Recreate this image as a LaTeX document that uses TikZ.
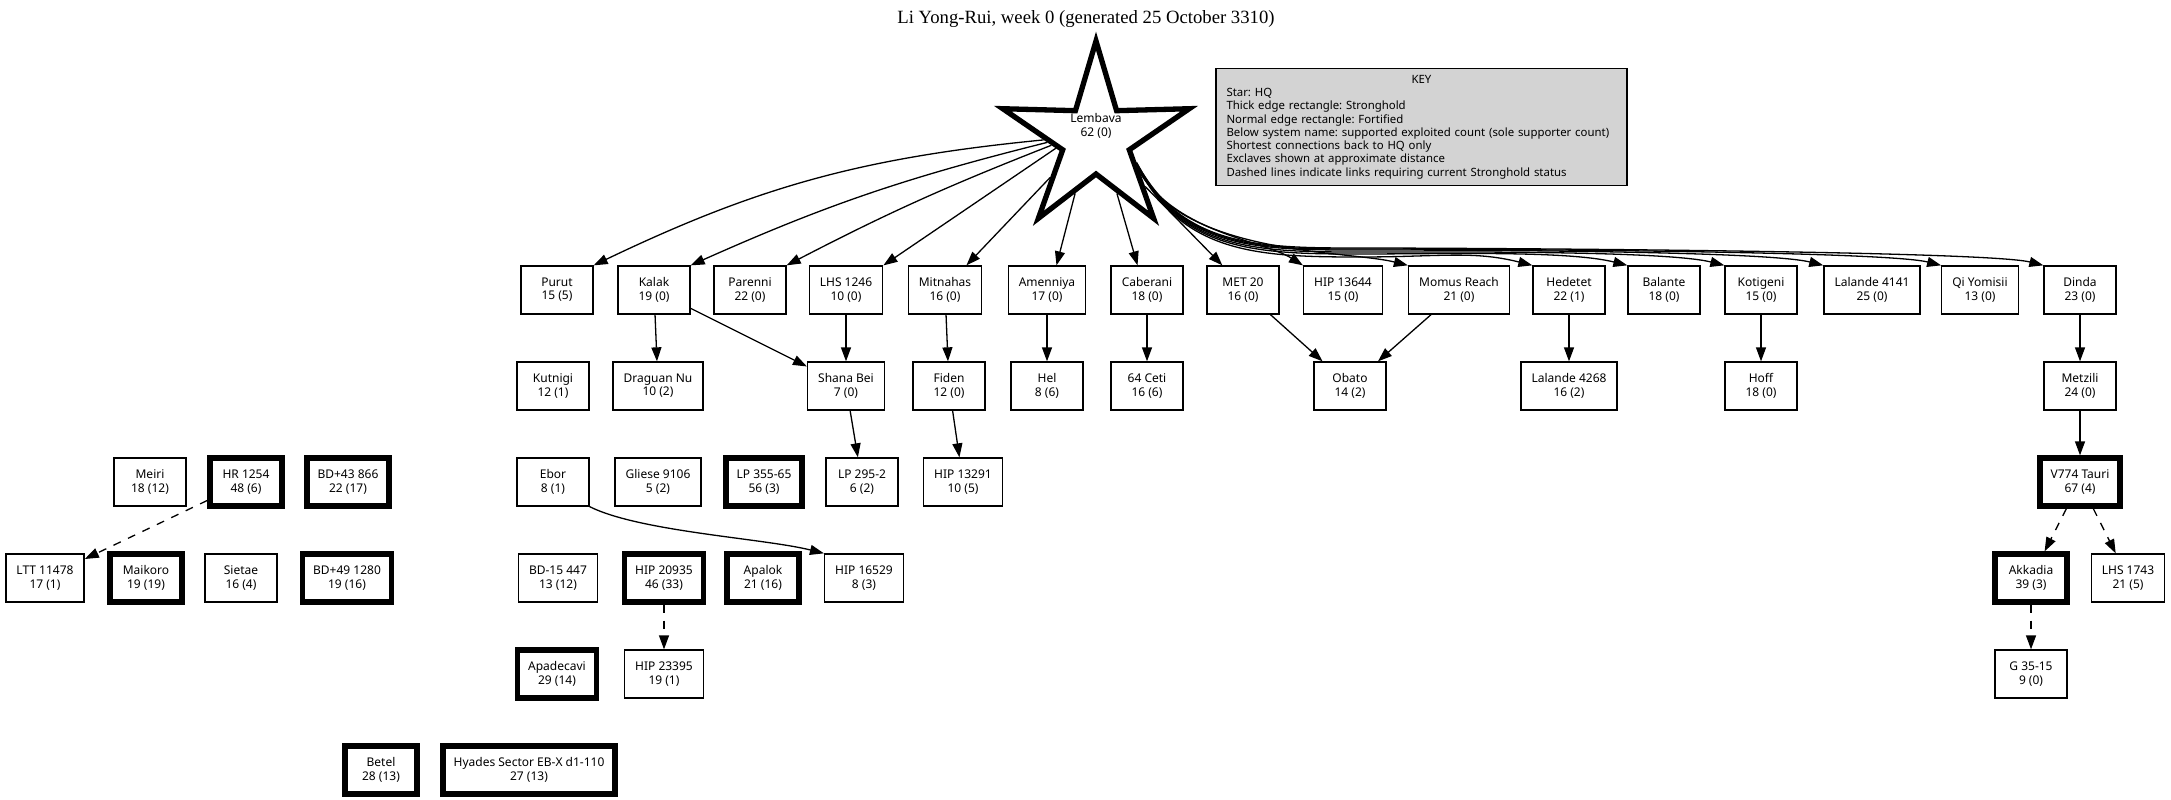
\documentclass[tikz,border=0pt]{standalone}
\usepackage{fontspec}
\setmainfont{Noto Sans}
\newfontfamily\titlefont{Liberation Serif}
\frenchspacing
\usetikzlibrary{positioning,shapes.geometric,arrows.meta}
\definecolor{KeyGray}{RGB}{211,211,211}
\tikzset{>={Triangle[length=14pt,width=10pt]}}
\tikzset{mysystem/.style={draw,rectangle,line width=1.3pt,minimum width=72pt,minimum height=48pt,inner xsep=10.6pt,inner ysep=5.3pt,align=center,font=\fontsize{12}{13.3}\selectfont}}
\tikzset{mystronghold/.style={mysystem,line width=5.3pt}}
\tikzset{myhq/.style={star,star points=5,star point ratio=2.8,minimum size=196pt,draw,line width=5.3pt,inner sep=0pt}}
\tikzset{myedges/.style={->,line width=1.3pt}}
\tikzset{mydashed/.style={myedges,dash pattern=on 8pt off 8pt}}
\tikzset{mykey/.style={draw,fill=KeyGray,line width=1.3pt,text width=390pt,minimum height=117pt,align=left,inner xsep=10.5pt,inner ysep=5pt,font=\fontsize{11.4}{13.3}\selectfont}}

\begin{document}
\begin{tikzpicture}[x=1pt,y=-1pt]
    \useasboundingbox (0,0) rectangle (2171,800);
    \node[font=\titlefont\fontsize{18.7}{22}\selectfont] (title) at (1086,19) {Li Yong-Rui, week 0 (generated 25 October 3310)};
    % HQ
    \node[myhq] (lembava) at (1096,139) {};
    \node[align=center,font=\fontsize{12}{13.3}\selectfont] (lembavalabel) at (1096,126) {Lembava\\62 (0)};
    \node[mykey] (key) at (1421.5,127) {\makebox[\linewidth]{KEY}\\Star: HQ\\Thick edge rectangle: Stronghold\\Normal edge rectangle: Fortified\\Below system name: supported exploited count (sole supporter count)\\Shortest connections back to HQ only\\Exclaves shown at approximate distance\\Dashed lines indicate links requiring current Stronghold status};
    % first ring
    \node[mysystem] (purut) at (557,290) {Purut\\15 (5)};
    \node[mysystem] (kalak) at (654,290) {Kalak\\19 (0)};
    \node[mysystem] (parenni) at (750,290) {Parenni\\22 (0)};
    \node[mysystem] (lhs1246) at (846,290) {LHS 1246\\10 (0)};
    \node[mysystem] (mitnahas) at (945,290) {Mitnahas\\16 (0)};
    \node[mysystem] (amenniya) at (1047,290) {Amenniya\\17 (0)};
    \node[mysystem] (caberani) at (1147,290) {Caberani\\18 (0)};
    \node[mysystem] (met20) at (1243,290) {MET 20\\16 (0)};
    \node[mysystem] (hip13644) at (1343,290) {HIP 13644\\15 (0)};
    \node[mysystem] (momusreach) at (1459,290) {Momus Reach\\21 (0)};
    \node[mysystem] (hedetet) at (1569,290) {Hedetet\\22 (1)};
    \node[mysystem] (balante) at (1664,290) {Balante\\18 (0)};
    \node[mysystem] (kotigeni) at (1761,290) {Kotigeni\\15 (0)};
    \node[mysystem] (lalande4141) at (1872,290) {Lalande 4141\\25 (0)};
    \node[mysystem] (qiyomisii) at (1980,290) {Qi Yomisii\\13 (0)};
    \node[mysystem] (dinda) at (2080,290) {Dinda\\23 (0)};
    % second ring
    \node[mysystem] (kutnigi) at (553,386) {Kutnigi\\12 (1)};
    \node[mysystem] (draguannu) at (658,386) {Draguan Nu\\10 (2)};
    \node[mysystem] (shanabei) at (846,386) {Shana Bei\\7 (0)};
    \node[mysystem] (fiden) at (949,386) {Fiden\\12 (0)};
    \node[mysystem] (hel) at (1047,386) {Hel\\8 (6)};
    \node[mysystem] (ceti64) at (1147,386) {64 Ceti\\16 (6)};
    \node[mysystem] (obato) at (1350,386) {Obato\\14 (2)};
    \node[mysystem] (lalande4268) at (1569,386) {Lalande 4268\\16 (2)};
    \node[mysystem] (hoff) at (1761,386) {Hoff\\18 (0)};
    \node[mysystem] (metzili) at (2080,386) {Metzili\\24 (0)};
    % third ring and exclaves
    \node[mysystem] (meiri) at (150,482) {Meiri\\18 (12)};
    \node[mystronghold] (hr1254) at (246,482) {HR 1254\\48 (6)};
    \node[mystronghold] (bd43866) at (348,482) {BD+43 866\\22 (17)};
    \node[mysystem] (ebor) at (553,482) {Ebor\\8 (1)};
    \node[mysystem] (gliese9106) at (658,482) {Gliese 9106\\5 (2)};
    \node[mystronghold] (lp35565) at (764,482) {LP 355-65\\56 (3)};
    \node[mysystem] (lp2952) at (862,482) {LP 295-2\\6 (2)};
    \node[mysystem] (hip13291) at (963,482) {HIP 13291\\10 (5)};
    \node[mystronghold] (v774tauri) at (2080,482) {V774 Tauri\\67 (4)};
    \node[mysystem] (ltt11478) at (45,578) {LTT 11478\\17 (1)};
    \node[mystronghold] (maikoro) at (146,578) {Maikoro\\19 (19)};
    \node[mysystem] (sietae) at (241,578) {Sietae\\16 (4)};
    \node[mystronghold] (bd491280) at (347,578) {BD+49 1280\\19 (16)};
    \node[mysystem] (bd15447) at (558,578) {BD-15 447\\13 (12)};
    \node[mystronghold] (hip20935) at (664,578) {HIP 20935\\46 (33)};
    \node[mystronghold] (apalok) at (763,578) {Apalok\\21 (16)};
    \node[mysystem] (hip16529) at (864,578) {HIP 16529\\8 (3)};
    \node[mystronghold] (akkadia) at (2031,578) {Akkadia\\39 (3)};
    \node[mysystem] (lhs1743) at (2128,578) {LHS 1743\\21 (5)};
    \node[mystronghold] (apadecavi) at (557,674) {Apadecavi\\29 (14)};
    \node[mysystem] (hip23395) at (664,674) {HIP 23395\\19 (1)};
    \node[mysystem] (g3515) at (2031,674) {G 35-15\\9 (0)};
    \node[mystronghold] (betel) at (381,770) {Betel\\28 (13)};
    \node[mystronghold] (hyades) at (529,770) {Hyades Sector EB-X d1-110\\27 (13)};
    % links from HQ
    \draw[myedges] (lembava.181) to[bend right=10] (purut.north east);
    \draw[myedges] (lembava.184) to[bend right=5] (kalak.north east);
    \draw[myedges] (lembava.188) to[bend right=3] (parenni.north east);
    \draw[myedges] (lembava.193) -- (lhs1246.north east);
    \draw[myedges] (lembava.220) -- (mitnahas.49);
    \draw[myedges] (lembava.249) -- (amenniya.69);
    \draw[myedges] (lembava.291) -- (caberani.111);
    \draw[myedges] (lembava.316) -- (met20.130);
    \draw[myedges] (lembava.322) .. controls +(40,60) and +(-40,-25) .. (hip13644.north west);
    \draw[myedges] (lembava.324) .. controls +(45,85) and +(-60,-15) .. (momusreach.north west);
    \foreach \t/\s/\m in {hedetet/325/257,balante/326/254,kotigeni/327/252,lalande4141/328/250,qiyomisii/329/249,dinda/330/248}
        \draw[myedges] (lembava.\s) .. controls +(45,85) and +(-100,0) .. (1360,\m) .. controls +(80,0) and +(-60,-15) .. (\t.north west);
    % other links
    \foreach \a/\b in {kalak/draguannu,kalak/shanabei,lhs1246/shanabei,mitnahas/fiden,amenniya/hel,caberani/ceti64,met20/obato,momusreach/obato,hedetet/lalande4268,kotigeni/hoff,dinda/metzili,metzili/v774tauri,shanabei/lp2952,fiden/hip13291}
        \draw[myedges] (\a) -- (\b);
    \draw[myedges] (ebor.south east) .. controls +(50,25) and +(-60,-15) .. (hip16529.north west);
    \foreach \a/\b in {hr1254/ltt11478,hip20935/hip23395,v774tauri/akkadia,v774tauri/lhs1743,akkadia/g3515}
        \draw[mydashed] (\a) -- (\b);
\end{tikzpicture}
\end{document}
